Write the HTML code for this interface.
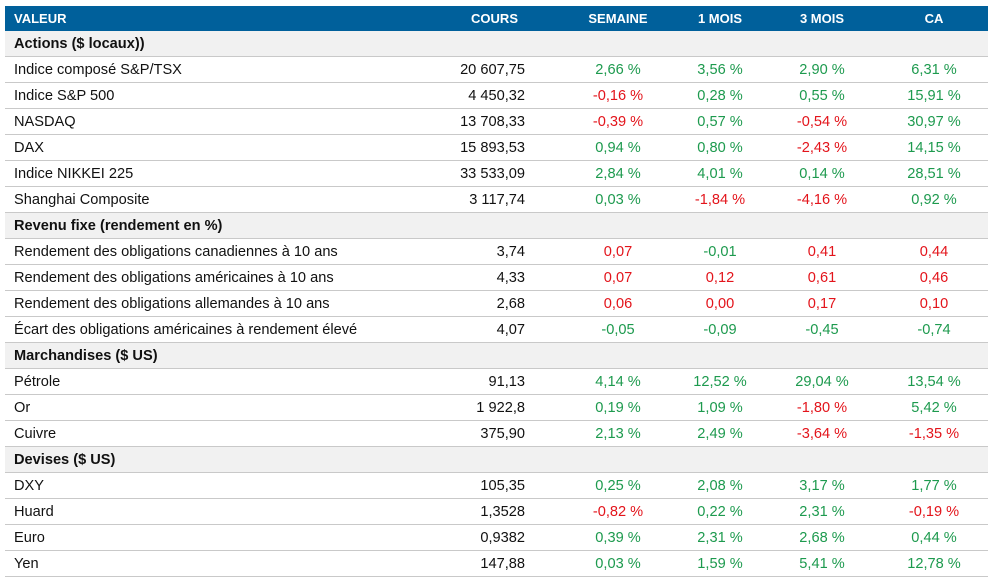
<!DOCTYPE html>
<html><head><meta charset="utf-8"><style>
body{margin:0;background:#fff;width:993px;height:582px;overflow:hidden;font-family:"Liberation Sans",Arial,sans-serif;font-size:14.6px;color:#111}
.t{position:absolute;left:5px;top:6px;width:983px}
.r{position:relative;height:25px;border-bottom:1px solid #c9c9c9}
.h{background:#00609b;color:#fff;font-weight:bold;font-size:13px;height:25px;border:none}
.s{background:#f1f1f1;font-weight:bold}
.r div{position:absolute;top:0;line-height:27px;white-space:nowrap}
.h div{line-height:25px}
.a{left:9px}
.b{right:463px;text-align:right}
.c{left:553px;width:120px;text-align:center}
.d{left:655px;width:120px;text-align:center}
.e{left:757px;width:120px;text-align:center}
.f{left:869px;width:120px;text-align:center}
.g{color:#1d9a4e}.x{color:#e3141b}
.h .b{right:470px}
</style></head><body><div class="t">
<div class="r h"><div class="a">VALEUR</div><div class="b">COURS</div><div class="c">SEMAINE</div><div class="d">1 MOIS</div><div class="e">3 MOIS</div><div class="f">CA</div></div>
<div class="r s"><div class="a">Actions ($ locaux))</div></div>
<div class="r"><div class="a">Indice composé S&amp;P/TSX</div><div class="b">20 607,75</div><div class="c g">2,66 %</div><div class="d g">3,56 %</div><div class="e g">2,90 %</div><div class="f g">6,31 %</div></div>
<div class="r"><div class="a">Indice S&amp;P 500</div><div class="b">4 450,32</div><div class="c x">-0,16 %</div><div class="d g">0,28 %</div><div class="e g">0,55 %</div><div class="f g">15,91 %</div></div>
<div class="r"><div class="a">NASDAQ</div><div class="b">13 708,33</div><div class="c x">-0,39 %</div><div class="d g">0,57 %</div><div class="e x">-0,54 %</div><div class="f g">30,97 %</div></div>
<div class="r"><div class="a">DAX</div><div class="b">15 893,53</div><div class="c g">0,94 %</div><div class="d g">0,80 %</div><div class="e x">-2,43 %</div><div class="f g">14,15 %</div></div>
<div class="r"><div class="a">Indice NIKKEI 225</div><div class="b">33 533,09</div><div class="c g">2,84 %</div><div class="d g">4,01 %</div><div class="e g">0,14 %</div><div class="f g">28,51 %</div></div>
<div class="r"><div class="a">Shanghai Composite</div><div class="b">3 117,74</div><div class="c g">0,03 %</div><div class="d x">-1,84 %</div><div class="e x">-4,16 %</div><div class="f g">0,92 %</div></div>
<div class="r s"><div class="a">Revenu fixe (rendement en %)</div></div>
<div class="r"><div class="a">Rendement des obligations canadiennes à 10 ans</div><div class="b">3,74</div><div class="c x">0,07</div><div class="d g">-0,01</div><div class="e x">0,41</div><div class="f x">0,44</div></div>
<div class="r"><div class="a">Rendement des obligations américaines à 10 ans</div><div class="b">4,33</div><div class="c x">0,07</div><div class="d x">0,12</div><div class="e x">0,61</div><div class="f x">0,46</div></div>
<div class="r"><div class="a">Rendement des obligations allemandes à 10 ans</div><div class="b">2,68</div><div class="c x">0,06</div><div class="d x">0,00</div><div class="e x">0,17</div><div class="f x">0,10</div></div>
<div class="r"><div class="a">Écart des obligations américaines à rendement élevé</div><div class="b">4,07</div><div class="c g">-0,05</div><div class="d g">-0,09</div><div class="e g">-0,45</div><div class="f g">-0,74</div></div>
<div class="r s"><div class="a">Marchandises ($ US)</div></div>
<div class="r"><div class="a">Pétrole</div><div class="b">91,13</div><div class="c g">4,14 %</div><div class="d g">12,52 %</div><div class="e g">29,04 %</div><div class="f g">13,54 %</div></div>
<div class="r"><div class="a">Or</div><div class="b">1 922,8</div><div class="c g">0,19 %</div><div class="d g">1,09 %</div><div class="e x">-1,80 %</div><div class="f g">5,42 %</div></div>
<div class="r"><div class="a">Cuivre</div><div class="b">375,90</div><div class="c g">2,13 %</div><div class="d g">2,49 %</div><div class="e x">-3,64 %</div><div class="f x">-1,35 %</div></div>
<div class="r s"><div class="a">Devises ($ US)</div></div>
<div class="r"><div class="a">DXY</div><div class="b">105,35</div><div class="c g">0,25 %</div><div class="d g">2,08 %</div><div class="e g">3,17 %</div><div class="f g">1,77 %</div></div>
<div class="r"><div class="a">Huard</div><div class="b">1,3528</div><div class="c x">-0,82 %</div><div class="d g">0,22 %</div><div class="e g">2,31 %</div><div class="f x">-0,19 %</div></div>
<div class="r"><div class="a">Euro</div><div class="b">0,9382</div><div class="c g">0,39 %</div><div class="d g">2,31 %</div><div class="e g">2,68 %</div><div class="f g">0,44 %</div></div>
<div class="r"><div class="a">Yen</div><div class="b">147,88</div><div class="c g">0,03 %</div><div class="d g">1,59 %</div><div class="e g">5,41 %</div><div class="f g">12,78 %</div></div>
</div></body></html>
